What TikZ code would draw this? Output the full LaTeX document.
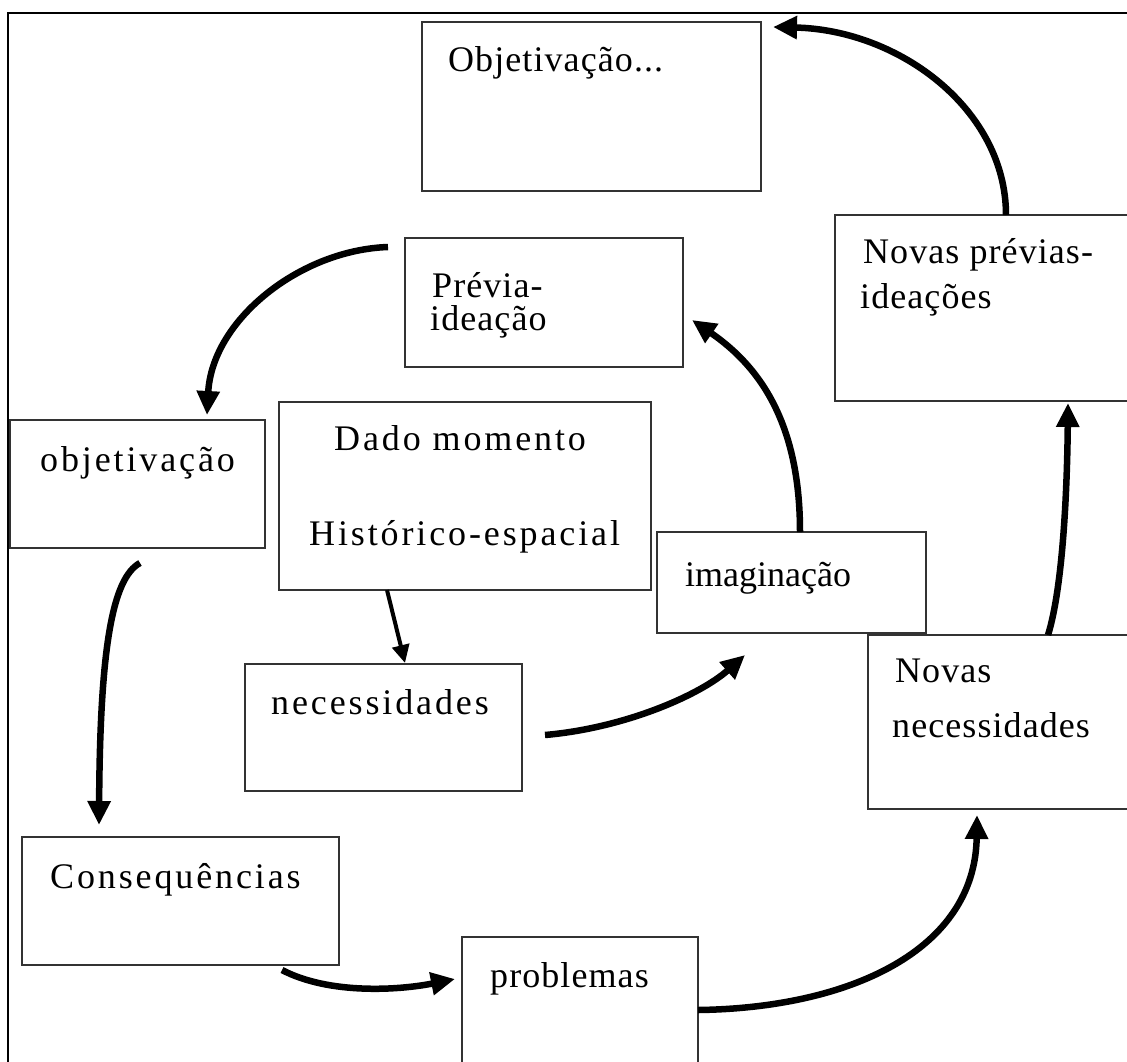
\documentclass[tikz,border=0pt]{standalone}
\usepackage{fontspec}
\setmainfont{Liberation Serif}
\newfontfamily\wfont[LetterSpace=8]{Liberation Serif}
\newfontfamily\nfont[LetterSpace=3]{Liberation Serif}
\usetikzlibrary{arrows.meta,calc}
\tikzset{
  box/.style={draw=black!80, line width=2.6pt, fill=white, inner sep=0pt, outer sep=0pt, rectangle},
  wtxt/.style={inner sep=0pt, anchor=base west, font=\wfont\fontsize{36}{40}\selectfont},
  ntxt/.style={inner sep=0pt, anchor=base west, font=\nfont\fontsize{36}{40}\selectfont},
  ptxt/.style={inner sep=0pt, anchor=base west, font=\rmfamily\fontsize{36}{40}\selectfont},
  flow/.style={line width=6.5pt, -{Triangle[length=24pt,width=22pt]}},
  thin/.style={line width=4pt, -{Triangle[length=18pt,width=17pt]}}
}
\begin{document}
\begin{tikzpicture}[x=1pt,y=-1pt]
\useasboundingbox (0,0) rectangle (1127,1061);
\clip (0,0) rectangle (1127,1061);
\fill[white] (0,0) rectangle (1127,1061);
\draw[line width=2.6pt] (8,1090) -- (8,13) -- (1150,13);

% boxes
\node[box, minimum width=339pt, minimum height=169pt] (obj3)  at (591.5,106.5) {};
\node[box, minimum width=305pt, minimum height=186pt] (nprev) at (987.5,308) {};
\node[box, minimum width=278pt, minimum height=129pt] (prev)  at (544,302.5) {};
\node[box, minimum width=255pt, minimum height=128pt] (objL)  at (137.5,484) {};
\node[box, minimum width=372pt, minimum height=188pt] (dado)  at (465,496) {};
\node[box, minimum width=269pt, minimum height=101pt] (imag)  at (791.5,582.5) {};
\node[box, minimum width=272pt, minimum height=174pt] (nnec)  at (1004,722) {};
\node[box, minimum width=277pt, minimum height=127pt] (nec)   at (383.5,727.5) {};
\node[box, minimum width=317pt, minimum height=128pt] (cons)  at (180.5,901) {};
\node[box, minimum width=236pt, minimum height=143pt] (prob)  at (580,1008.5) {};

% texts
\node[ntxt] (tobj3)  at (448,71)  {Objetivação...};
\node[ntxt] (tnp1)   at (863,263) {Novas prévias-};
\node[ntxt] (tnp2)   at (860,308) {ideações};
\node[ntxt] (tpv1)   at (432,297) {Prévia-};
\node[ntxt] (tpv2)   at (430,330) {ideação};
\node[wtxt] (tobjL)  at (40,471)  {objetivação};
\node[wtxt] (tdado1) at (334,450) {Dado momento};
\node[wtxt] (tdado2) at (309,545) {Histórico-espacial};
\node[ptxt] (timag)  at (685,586) {imaginação};
\node[ntxt] (tnn1)   at (895,682) {Novas};
\node[ntxt] (tnn2)   at (892,737) {necessidades};
\node[wtxt] (tnec)   at (271,714) {necessidades};
\node[wtxt] (tcons)  at (50,888)  {Consequências};
\node[ntxt] (tprob)  at (490,987) {problemas};

% connectors
\draw[flow] ($(prev.north west)+(-17,9)$) .. controls (300,250) and (212,320) .. ($(objL.north)+(69.5,-5)$);
\draw[flow] ($(objL.south)+(2.5,15)$) .. controls (112,578) and (100,650) .. ($(cons.north)+(-81.5,-12)$);
\draw[flow] ($(cons.south)+(101.5,5)$) .. controls (330,995) and (400,990) .. ($(prob.north west)+(-7,42)$);
\draw[flow] ($(prob.east)+(0,1.5)$) .. controls (850,1008) and (975,950) .. ($(nnec.south)+(-27,6)$);
\draw[flow] ($(nnec.north)+(44,0)$) .. controls (1062,590) and (1067,500) .. ($(nprev.south)+(80.5,2)$);
\draw[flow] ($(nprev.north)+(18.5,0)$) .. controls (1006,110) and (900,30) .. ($(obj3.north east)+(12,5)$);
\draw[flow] ($(imag.north)+(8.5,0)$) .. controls (800,430) and (765,370) .. ($(prev.east)+(9,17.5)$);
\draw[flow] ($(nec.east)+(23,7.5)$) .. controls (625,728) and (700,695) .. ($(imag.south)+(-46.5,22)$);
\draw[thin] ($(dado.south)+(-78,0)$) -- ($(nec.north)+(21.5,-1)$);
\end{tikzpicture}
\end{document}
